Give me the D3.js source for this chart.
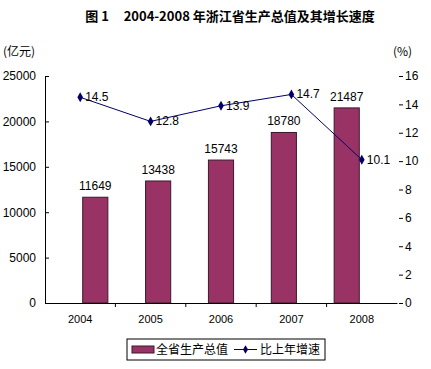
<!DOCTYPE html>
<html>
<head>
<meta charset="utf-8">
<script src="https://cdn.jsdelivr.net/npm/d3@7"></script>
<style>
body { margin: 0; background: #fff; }
text { font-family: "Noto Sans CJK SC", "Liberation Sans", sans-serif; }
.num { font-family: "Liberation Sans", Arial, sans-serif; }
</style>
</head>
<body>
<div id="chart"></div>
<script>
var years = ["2004", "2005", "2006", "2007", "2008"];
var gdp = [11649, 13438, 15743, 18780, 21487];
var growth = [14.5, 12.8, 13.9, 14.7, 10.1];
var leftTicks = [0, 5000, 10000, 15000, 20000, 25000];
var rightTicks = [0, 2, 4, 6, 8, 10, 12, 14, 16];

var W = 431, H = 369;
var margin = {top: 76, right: 34, bottom: 66, left: 45},
    width = W - margin.left - margin.right,
    height = H - margin.top - margin.bottom;

var svgRoot = d3.select("#chart").append("svg")
    .attr("width", W).attr("height", H);

svgRoot.append("text")
    .attr("x", 230).attr("y", 21)
    .attr("text-anchor", "middle")
    .style("font-size", "13px").style("font-weight", "bold")
    .style("white-space", "pre")
    .text("图 1     2004-2008 年浙江省生产总值及其增长速度");

svgRoot.append("text").attr("x", 3).attr("y", 56)
    .style("font-size", "12px").text("(亿元)");
svgRoot.append("text").attr("x", 393).attr("y", 56)
    .style("font-size", "12px").text("(%)");

var svg = svgRoot.append("g")
    .attr("transform", "translate(" + margin.left + "," + margin.top + ")");

var x = d3.scaleBand().domain(years).range([0, width]).padding(0.6);
var xc = d3.scaleBand().domain(years).range([0, width]);
var y = d3.scaleLinear().domain([0, 25000]).range([height, 0]);
var y2 = d3.scaleLinear().domain([0, 16]).range([height, 0]);

// bars
svg.selectAll("rect.bar")
    .data(gdp)
    .enter().append("rect")
    .attr("class", "bar")
    .attr("x", function(d, i) { return x(years[i]); })
    .attr("y", function(d) { return y(d); })
    .attr("width", x.bandwidth())
    .attr("height", function(d) { return height - y(d); })
    .attr("fill", "#993366")
    .attr("stroke", "#3a1a2a")
    .attr("stroke-width", 1);

svg.selectAll("text.blab")
    .data(gdp)
    .enter().append("text")
    .attr("class", "num")
    .attr("x", function(d, i) { return x(years[i]) + x.bandwidth() / 2; })
    .attr("y", function(d) { return y(d) - 7; })
    .attr("text-anchor", "middle")
    .style("font-size", "12px")
    .text(function(d) { return d; });

// left axis
var ya = svg.append("g")
    .call(d3.axisLeft(y).tickValues(leftTicks).tickFormat(d3.format("d"))
        .tickSize(-4).tickSizeOuter(0).tickPadding(9));
ya.selectAll("text").attr("class", "num").style("font-size", "12px");
ya.select(".domain").attr("stroke", "#000");

// right axis (ticks only)
var yr = svg.append("g")
    .attr("transform", "translate(" + (width - 6) + ",0)")
    .call(d3.axisRight(y2).tickValues(rightTicks).tickSize(4).tickPadding(10).tickSizeOuter(0));
yr.select(".domain").remove();
yr.selectAll("line").attr("transform", "translate(8,0)");
yr.selectAll("text").attr("class", "num").style("font-size", "12px");

// x axis
var xa = svg.append("g")
    .attr("transform", "translate(0," + height + ")")
    .call(d3.axisBottom(xc).tickSize(0).tickPadding(12));
xa.select(".domain").attr("stroke", "#000");
xa.selectAll("text").attr("class", "num").style("font-size", "11px");
xa.selectAll(".sep").data(years.slice(1)).enter().append("line")
    .attr("x1", function(d) { return xc(d); }).attr("x2", function(d) { return xc(d); })
    .attr("y1", 0).attr("y2", 4).attr("stroke", "#000");

// growth line
var line = d3.line()
    .x(function(d, i) { return xc(years[i]) + xc.bandwidth() / 2; })
    .y(function(d) { return y2(d); });
svg.append("path").datum(growth)
    .attr("d", line).attr("fill", "none")
    .attr("stroke", "#000066").attr("stroke-width", 1);

svg.selectAll("path.pt").data(growth).enter().append("path")
    .attr("class", "pt")
    .attr("d", d3.symbol().type(d3.symbolDiamond).size(28))
    .attr("transform", function(d, i) {
        return "translate(" + (xc(years[i]) + xc.bandwidth() / 2) + "," + y2(d) + ")";
    })
    .attr("fill", "#000066");

svg.selectAll("text.glab").data(growth).enter().append("text")
    .attr("class", "num")
    .attr("x", function(d, i) { return xc(years[i]) + xc.bandwidth() / 2 + 5; })
    .attr("y", function(d) { return y2(d) + 4; })
    .style("font-size", "12px")
    .text(function(d) { return d.toFixed(1); });

// legend
var lg = svgRoot.append("g").attr("transform", "translate(127,339)");
lg.append("rect").attr("width", 198).attr("height", 21)
    .attr("fill", "#fff").attr("stroke", "#000");
lg.append("rect").attr("x", 5).attr("y", 7).attr("width", 22).attr("height", 7)
    .attr("fill", "#993366").attr("stroke", "#3a1a2a");
lg.append("text").attr("x", 29).attr("y", 15).style("font-size", "12px").text("全省生产总值");
lg.append("line").attr("x1", 107).attr("x2", 130).attr("y1", 10.5).attr("y2", 10.5)
    .attr("stroke", "#000066");
lg.append("path").attr("d", d3.symbol().type(d3.symbolDiamond).size(22))
    .attr("transform", "translate(118.5,10.5)").attr("fill", "#000066");
lg.append("text").attr("x", 133).attr("y", 15).style("font-size", "12px").text("比上年增速");
</script>
</body>
</html>
